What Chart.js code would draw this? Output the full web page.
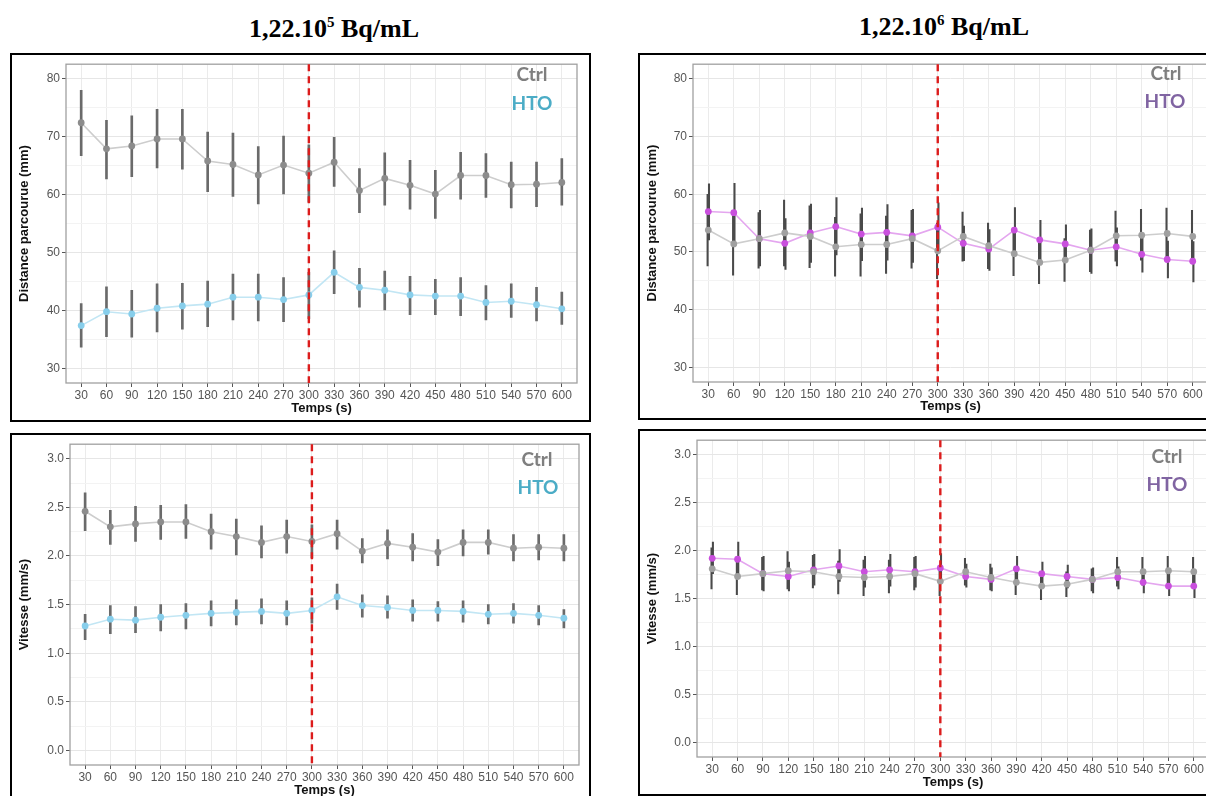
<!DOCTYPE html>
<html>
<head>
<meta charset="utf-8">
<script src="https://cdn.jsdelivr.net/npm/chart.js@4.4.1/dist/chart.umd.min.js"></script>
<style>
  body { margin: 0; width: 1206px; height: 796px; overflow: hidden; background: #fff; position: relative; }
  .frame { position: absolute; border: 2px solid #000; background: #fff; }
  .frame canvas { position: absolute; left: 0; top: 0; }
  .title { position: absolute; font: bold 26px 'Liberation Serif', 'Times New Roman', serif; line-height: 26px; transform: translateX(-50%); white-space: nowrap; color: #000; }
  .title sup { font-size: 15px; vertical-align: 10px; line-height: 0; }
  .lab { position: absolute; font: bold 19px Lato, 'Open Sans', sans-serif; line-height: 19px; transform: translateX(-50%); white-space: nowrap; }
</style>
</head>
<body>

<div class="title" style="left:334px; top:16px">1,22.10<sup>5</sup> Bq/mL</div>
<div class="title" style="left:944px; top:14px">1,22.10<sup>6</sup> Bq/mL</div>

<div class="frame" style="left:10px; top:53px; width:577px; height:365px"><canvas id="distLow" width="577" height="365"></canvas></div>
<div class="frame" style="left:638px; top:53px; width:580px; height:363px"><canvas id="distHigh" width="580" height="363"></canvas></div>
<div class="frame" style="left:10px; top:433px; width:577px; height:367px"><canvas id="speedLow" width="577" height="367"></canvas></div>
<div class="frame" style="left:638px; top:429px; width:580px; height:363px"><canvas id="speedHigh" width="580" height="363"></canvas></div>

<div class="lab" style="left:532px; top:64px; color:#7f7f7f">Ctrl</div>
<div class="lab" style="left:532px; top:93px; color:#4bacc6">HTO</div>
<div class="lab" style="left:1166px; top:63px; color:#7f7f7f">Ctrl</div>
<div class="lab" style="left:1165px; top:91px; color:#8064a2">HTO</div>
<div class="lab" style="left:537px; top:449px; color:#7f7f7f">Ctrl</div>
<div class="lab" style="left:538px; top:477px; color:#4bacc6">HTO</div>
<div class="lab" style="left:1167px; top:446px; color:#7f7f7f">Ctrl</div>
<div class="lab" style="left:1167px; top:474px; color:#8064a2">HTO</div>

<script>
// temps (s)
const times = [30, 60, 90, 120, 150, 180, 210, 240, 270, 300, 330, 360, 390, 420, 450, 480, 510, 540, 570, 600];
const stimTime = 300;

const distGrid = [30, 35, 40, 45, 50, 55, 60, 65, 70, 75, 80];
const speedGrid = [0, 0.25, 0.5, 0.75, 1, 1.25, 1.5, 1.75, 2, 2.25, 2.5, 2.75, 3];

// distance parcourue (mm), 1,22.10^5 Bq/mL
const dist5Ctrl   = [72.4, 67.9, 68.4, 69.6, 69.6, 65.8, 65.2, 63.4, 65.1, 63.7, 65.6, 60.7, 62.8, 61.6, 60.1, 63.3, 63.3, 61.7, 61.8, 62.1];
const dist5CtrlLo = [66.7, 62.7, 63.1, 64.6, 64.4, 60.5, 59.7, 58.4, 60.1, 58.7, 61.4, 56.9, 58.2, 57.5, 55.9, 59.2, 59.5, 57.7, 57.9, 58.2];
const dist5CtrlHi = [78.0, 72.8, 73.6, 74.7, 74.7, 70.8, 70.6, 68.3, 70.1, 68.6, 69.9, 64.5, 67.2, 65.9, 64.2, 67.3, 67.1, 65.6, 65.6, 66.2];
const dist5Hto    = [37.4, 39.8, 39.4, 40.4, 40.8, 41.1, 42.3, 42.3, 41.9, 42.7, 46.6, 44.0, 43.5, 42.7, 42.5, 42.5, 41.4, 41.6, 41.0, 40.3];
const dist5HtoLo  = [33.7, 35.5, 35.4, 36.3, 36.8, 37.2, 38.4, 38.2, 38.1, 38.6, 42.9, 40.6, 40.1, 39.3, 39.3, 39.1, 38.4, 38.8, 38.2, 37.6];
const dist5HtoHi  = [41.2, 44.1, 43.5, 44.6, 44.7, 45.1, 46.3, 46.3, 45.7, 46.6, 50.3, 47.3, 46.8, 45.9, 45.4, 45.7, 44.3, 44.6, 44.0, 43.2];

// distance parcourue (mm), 1,22.10^6 Bq/mL
const dist6Ctrl   = [53.8, 51.4, 52.3, 53.3, 52.7, 50.9, 51.3, 51.3, 52.3, 50.2, 52.7, 51.1, 49.7, 48.2, 48.6, 50.3, 52.8, 52.9, 53.2, 52.7];
const dist6CtrlLo = [47.6, 46.0, 47.2, 47.6, 47.3, 45.8, 45.8, 46.3, 47.2, 45.4, 48.4, 47.1, 45.9, 44.5, 44.9, 46.6, 48.4, 48.6, 48.8, 48.2];
const dist6CtrlHi = [60.0, 56.5, 56.8, 59.0, 58.0, 56.0, 56.6, 56.2, 57.2, 55.0, 56.9, 55.0, 53.6, 52.0, 52.3, 53.8, 57.1, 57.4, 57.6, 57.2];
const dist6Hto    = [57.0, 56.8, 52.3, 51.5, 53.3, 54.4, 53.1, 53.4, 52.8, 54.3, 51.5, 50.5, 53.8, 52.1, 51.4, 50.3, 50.9, 49.6, 48.7, 48.4];
const dist6HtoLo  = [52.1, 51.6, 47.6, 47.0, 48.2, 49.5, 48.5, 48.6, 48.2, 50.0, 48.5, 46.8, 49.9, 48.6, 48.2, 46.3, 47.6, 46.5, 45.5, 44.8];
const dist6HtoHi  = [61.8, 61.9, 57.2, 55.8, 58.3, 59.4, 57.6, 58.2, 57.4, 58.5, 54.5, 53.9, 57.7, 55.5, 54.7, 54.0, 54.2, 52.6, 51.9, 51.8];

// vitesse (mm/s), 1,22.10^5 Bq/mL
const speed5Ctrl   = [2.46, 2.30, 2.33, 2.35, 2.35, 2.25, 2.20, 2.14, 2.20, 2.15, 2.23, 2.05, 2.13, 2.09, 2.04, 2.14, 2.14, 2.08, 2.09, 2.08];
const speed5CtrlLo = [2.26, 2.12, 2.15, 2.17, 2.18, 2.07, 2.01, 1.98, 2.03, 1.98, 2.07, 1.93, 1.97, 1.95, 1.90, 2.00, 2.02, 1.95, 1.96, 1.95];
const speed5CtrlHi = [2.65, 2.47, 2.51, 2.52, 2.53, 2.43, 2.38, 2.31, 2.37, 2.32, 2.37, 2.18, 2.27, 2.23, 2.17, 2.27, 2.27, 2.22, 2.22, 2.22];
const speed5Hto    = [1.28, 1.35, 1.34, 1.37, 1.39, 1.41, 1.42, 1.43, 1.41, 1.44, 1.58, 1.49, 1.47, 1.44, 1.44, 1.43, 1.40, 1.41, 1.39, 1.36];
const speed5HtoLo  = [1.14, 1.20, 1.21, 1.23, 1.25, 1.28, 1.29, 1.30, 1.29, 1.31, 1.45, 1.37, 1.36, 1.33, 1.33, 1.32, 1.30, 1.31, 1.29, 1.26];
const speed5HtoHi  = [1.40, 1.49, 1.48, 1.50, 1.51, 1.54, 1.55, 1.56, 1.54, 1.57, 1.71, 1.60, 1.59, 1.55, 1.53, 1.54, 1.50, 1.51, 1.49, 1.45];

// vitesse (mm/s), 1,22.10^6 Bq/mL
const speed6Ctrl   = [1.81, 1.73, 1.76, 1.79, 1.78, 1.73, 1.72, 1.73, 1.76, 1.68, 1.78, 1.72, 1.67, 1.63, 1.65, 1.70, 1.78, 1.78, 1.79, 1.78];
const speed6CtrlLo = [1.60, 1.54, 1.59, 1.60, 1.61, 1.55, 1.53, 1.56, 1.59, 1.53, 1.64, 1.59, 1.54, 1.49, 1.52, 1.58, 1.63, 1.64, 1.65, 1.63];
const speed6CtrlHi = [2.03, 1.92, 1.93, 1.99, 1.95, 1.89, 1.90, 1.90, 1.93, 1.84, 1.92, 1.86, 1.80, 1.77, 1.78, 1.81, 1.93, 1.93, 1.94, 1.93];
const speed6Hto    = [1.92, 1.91, 1.76, 1.73, 1.80, 1.84, 1.78, 1.80, 1.78, 1.82, 1.73, 1.70, 1.81, 1.76, 1.73, 1.70, 1.72, 1.67, 1.63, 1.63];
const speed6HtoLo  = [1.76, 1.74, 1.58, 1.58, 1.64, 1.68, 1.62, 1.63, 1.62, 1.67, 1.62, 1.58, 1.68, 1.64, 1.61, 1.56, 1.60, 1.56, 1.53, 1.51];
const speed6HtoHi  = [2.09, 2.09, 1.94, 1.88, 1.96, 2.01, 1.94, 1.96, 1.94, 1.97, 1.86, 1.82, 1.94, 1.88, 1.85, 1.82, 1.83, 1.78, 1.76, 1.76];

Chart.defaults.font.family = "'Liberation Sans', Arial, sans-serif";

// panel border + red dashed line at stimTime
const panelDeco = {
    id: 'panelDeco',
    afterDatasetsDraw(chart) {
        const a = chart.chartArea
        const ctx = chart.ctx
        ctx.save()
        ctx.strokeStyle = '#a0a0a0'
        ctx.lineWidth = 1.3
        ctx.strokeRect(a.left, a.top, a.right - a.left, a.bottom - a.top)
        const x = chart.scales.x.getPixelForValue(stimTime)
        ctx.strokeStyle = '#dc1c1c'
        ctx.lineWidth = 2.4
        ctx.setLineDash([7, 5])
        ctx.beginPath()
        ctx.moveTo(x, a.top)
        ctx.lineTo(x, a.bottom)
        ctx.stroke()
        ctx.restore()
    }
}

function isMajor(v, step) {
    return Math.abs(v / step - Math.round(v / step)) < 1e-6
}

function makePanel(id, p) {
    const errSet = (lo, hi) => ({
        type: 'bar',
        data: times.map((t, i) => ({x: t, y: [lo[i], hi[i]]})),
        backgroundColor: p.errColor,
        borderWidth: 0,
        barThickness: p.errWidth,
        grouped: p.grouped,
        order: 3
    })
    const meanSet = (vals, lineColor, pointColor) => ({
        type: 'line',
        data: times.map((t, i) => ({x: t, y: vals[i]})),
        borderColor: lineColor,
        borderWidth: 1.6,
        pointRadius: 3.4,
        pointBackgroundColor: pointColor,
        pointBorderWidth: 0,
        tension: 0,
        order: 1
    })
    new Chart(document.getElementById(id), {
        type: 'line',
        data: {
            datasets: [
                errSet(p.ctrlLo, p.ctrlHi),
                errSet(p.htoLo, p.htoHi),
                meanSet(p.ctrl, '#cdcdcd', p.ctrlPoint),
                meanSet(p.hto, p.htoLine, p.htoPoint)
            ]
        },
        options: {
            responsive: false,
            animation: false,
            layout: {padding: {left: 0, top: p.padTop, right: p.padRight, bottom: 0}},
            plugins: {legend: {display: false}, tooltip: {enabled: false}},
            scales: {
                x: {
                    type: 'linear',
                    min: 12,
                    max: 618,
                    offset: false,
                    afterBuildTicks: s => { s.ticks = times.map(v => ({value: v})) },
                    afterFit: s => { s.height = p.xH },
                    border: {display: false},
                    grid: {offset: false, color: '#ebebeb', lineWidth: 1, tickLength: 4, tickColor: '#555'},
                    ticks: {color: '#555', font: {size: 12}, padding: 1, autoSkip: false, maxRotation: 0, callback: v => String(v)},
                    title: {display: true, text: 'Temps (s)', color: '#111', font: {size: 13, weight: 'bold'}, padding: {top: 0, bottom: 4}}
                },
                y: {
                    min: p.yMin,
                    max: p.yMax,
                    afterBuildTicks: s => { s.ticks = p.grid.map(v => ({value: v})) },
                    afterFit: s => { s.width = p.yW },
                    border: {display: false},
                    grid: {
                        color: c => isMajor(c.tick.value, p.labelStep) ? '#e6e6e6' : '#f3f3f3',
                        tickColor: c => isMajor(c.tick.value, p.labelStep) ? '#555' : 'rgba(0,0,0,0)',
                        lineWidth: 1,
                        tickLength: 4
                    },
                    ticks: {
                        color: '#555', font: {size: 12}, padding: 2, autoSkip: false,
                        callback: v => isMajor(v, p.labelStep) ? v.toFixed(p.decimals) : ''
                    },
                    title: {display: true, text: p.yTitle, color: '#111', font: {size: 13, weight: 'bold'}, padding: {top: 5, bottom: 0}}
                }
            }
        },
        plugins: [panelDeco]
    })
}

const distAxis = {yMin: 27.5, yMax: 82.5, grid: distGrid, labelStep: 10, decimals: 0, yTitle: 'Distance parcourue (mm)'}
const speedAxis = {yMin: -0.15, yMax: 3.15, grid: speedGrid, labelStep: 0.5, decimals: 1, yTitle: 'Vitesse (mm/s)'}
const lowDose = {htoLine: '#c2e6f4', htoPoint: '#87ceeb', ctrlPoint: '#8c8c8c', errColor: '#6a6a6a', errWidth: 2, grouped: false}
const highDose = {htoLine: '#e4a6ef', htoPoint: '#c94fdd', ctrlPoint: '#a0a0a0', errColor: '#4a4a4a', errWidth: 1.4, grouped: true}

makePanel('distLow', Object.assign({}, distAxis, lowDose, {
    ctrl: dist5Ctrl, ctrlLo: dist5CtrlLo, ctrlHi: dist5CtrlHi,
    hto: dist5Hto, htoLo: dist5HtoLo, htoHi: dist5HtoHi,
    yW: 54, padTop: 5, padRight: 12, xH: 37
}))
makePanel('distHigh', Object.assign({}, distAxis, highDose, {
    ctrl: dist6Ctrl, ctrlLo: dist6CtrlLo, ctrlHi: dist6CtrlHi,
    hto: dist6Hto, htoLo: dist6HtoLo, htoHi: dist6HtoHi,
    yW: 53, padTop: 4, padRight: 12, xH: 36
}))
makePanel('speedLow', Object.assign({}, speedAxis, lowDose, {
    ctrl: speed5Ctrl, ctrlLo: speed5CtrlLo, ctrlHi: speed5CtrlHi,
    hto: speed5Hto, htoLo: speed5HtoLo, htoHi: speed5HtoHi,
    yW: 58, padTop: 5, padRight: 10, xH: 37
}))
makePanel('speedHigh', Object.assign({}, speedAxis, highDose, {
    ctrl: speed6Ctrl, ctrlLo: speed6CtrlLo, ctrlHi: speed6CtrlHi,
    hto: speed6Hto, htoLo: speed6HtoLo, htoHi: speed6HtoHi,
    yW: 57, padTop: 4, padRight: 11, xH: 37
}))
</script>
</body>
</html>
